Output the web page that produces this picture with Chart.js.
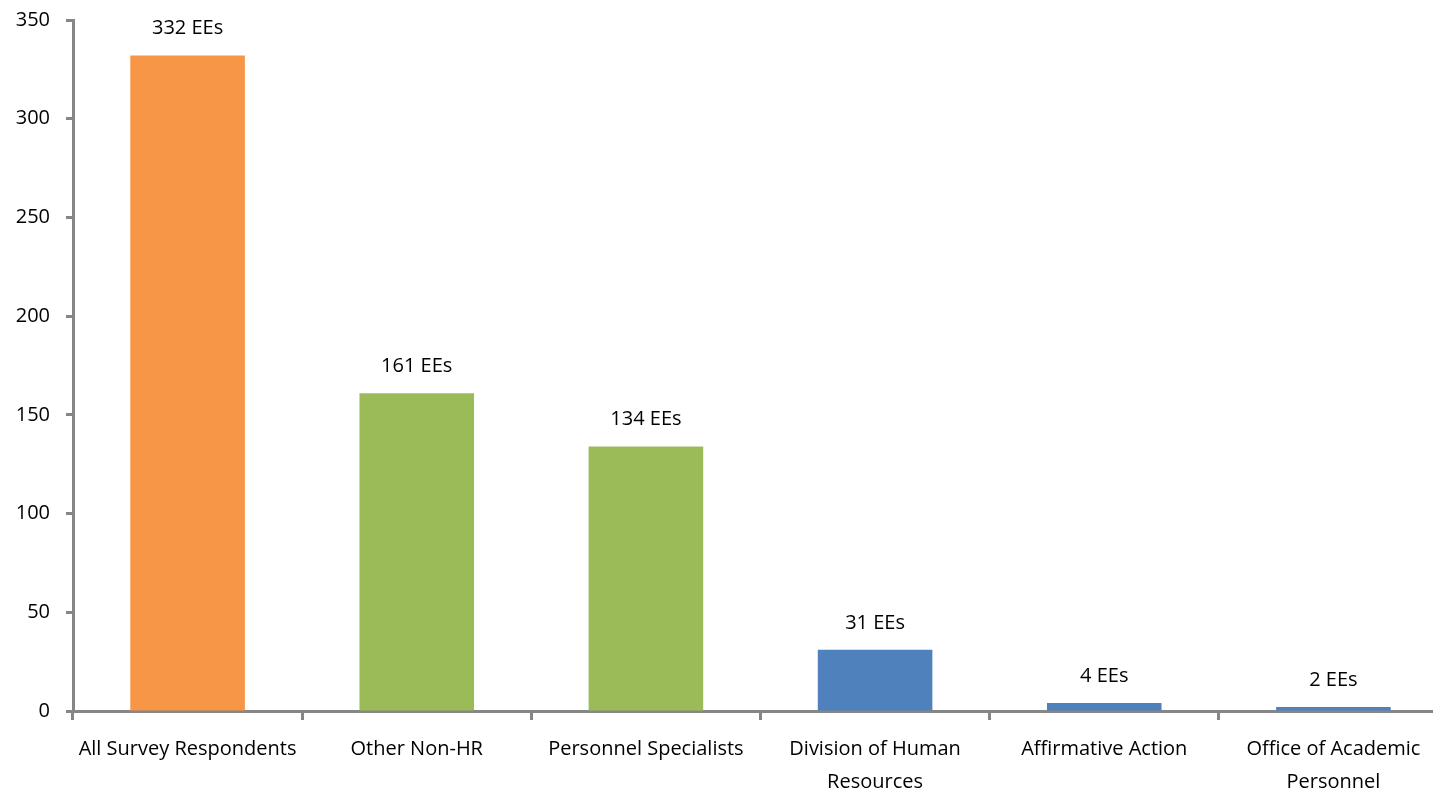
<!DOCTYPE html>
<html>
<head>
<meta charset="utf-8">
<script src="https://cdn.jsdelivr.net/npm/chart.js@4/dist/chart.umd.min.js"></script>
<style>
  html, body { margin: 0; padding: 0; background: #fff; overflow: hidden; }
  #wrap { position: relative; width: 1452px; height: 793px; }
</style>
</head>
<body>
<div id="wrap"><canvas id="chart"></canvas></div>
<script>
let categories = [
  "All Survey Respondents",
  "Other Non-HR",
  "Personnel Specialists",
  ["Division of Human", "Resources"],
  "Affirmative Action",
  ["Office of Academic", "Personnel"],
];
let employees = [332, 161, 134, 31, 4, 2];
let barColors = ["#F79646", "#9BBB59", "#9BBB59", "#4F81BD", "#4F81BD", "#4F81BD"];
let yTicks = [0, 50, 100, 150, 200, 250, 300, 350];

const axisGray = "#868686";
const font = { family: "Open Sans", size: 20 };

//labels above bars
const valueLabels = {
  id: "valueLabels",
  afterDatasetsDraw(chart) {
    const ctx = chart.ctx;
    const meta = chart.getDatasetMeta(0);
    ctx.save();
    ctx.font = `${font.size}px ${font.family}`;
    ctx.fillStyle = "#000";
    ctx.textAlign = "center";
    ctx.textBaseline = "middle";
    meta.data.forEach((bar, i) => {
      ctx.fillText(employees[i] + " EEs", bar.x, bar.y - 27);
    });
    ctx.restore();
  },
};

const ctx = document.getElementById("chart").getContext("2d");
new Chart(ctx, {
  type: "bar",
  data: {
    labels: categories,
    datasets: [
      {
        data: employees,
        backgroundColor: barColors,
        borderWidth: 0,
        barPercentage: 1,
        categoryPercentage: 0.5,
      },
    ],
  },
  options: {
    responsive: true,
    maintainAspectRatio: false,
    animation: false,
    layout: { padding: { top: 20, right: 4, left: 0, bottom: 0 } },
    plugins: {
      legend: { display: false },
      tooltip: { enabled: false },
    },
    scales: {
      x: {
        grid: {
          drawOnChartArea: false,
          drawTicks: true,
          tickLength: 9,
          tickWidth: 3,
          tickColor: axisGray,
          offset: true,
        },
        border: { color: axisGray, width: 3 },
        ticks: {
          color: "#000",
          font: { family: font.family, size: font.size, lineHeight: 1.65 },
          padding: 13,
          maxRotation: 0,
          autoSkip: false,
        },
        afterFit: (scale) => { scale.height = 82; },
      },
      y: {
        min: 0,
        max: 350,
        afterBuildTicks: (scale) => { scale.ticks = yTicks.map((v) => ({ value: v })); },
        grid: {
          drawOnChartArea: false,
          tickLength: 7,
          tickWidth: 3,
          tickColor: axisGray,
        },
        border: { color: axisGray, width: 3 },
        ticks: {
          color: "#000",
          font: font,
          padding: 16,
        },
        afterFit: (scale) => {
          scale.width = 73;
          scale.paddingTop = 0;
          scale.paddingBottom = 0;
        },
      },
    },
  },
  plugins: [valueLabels],
});
</script>
</body>
</html>
